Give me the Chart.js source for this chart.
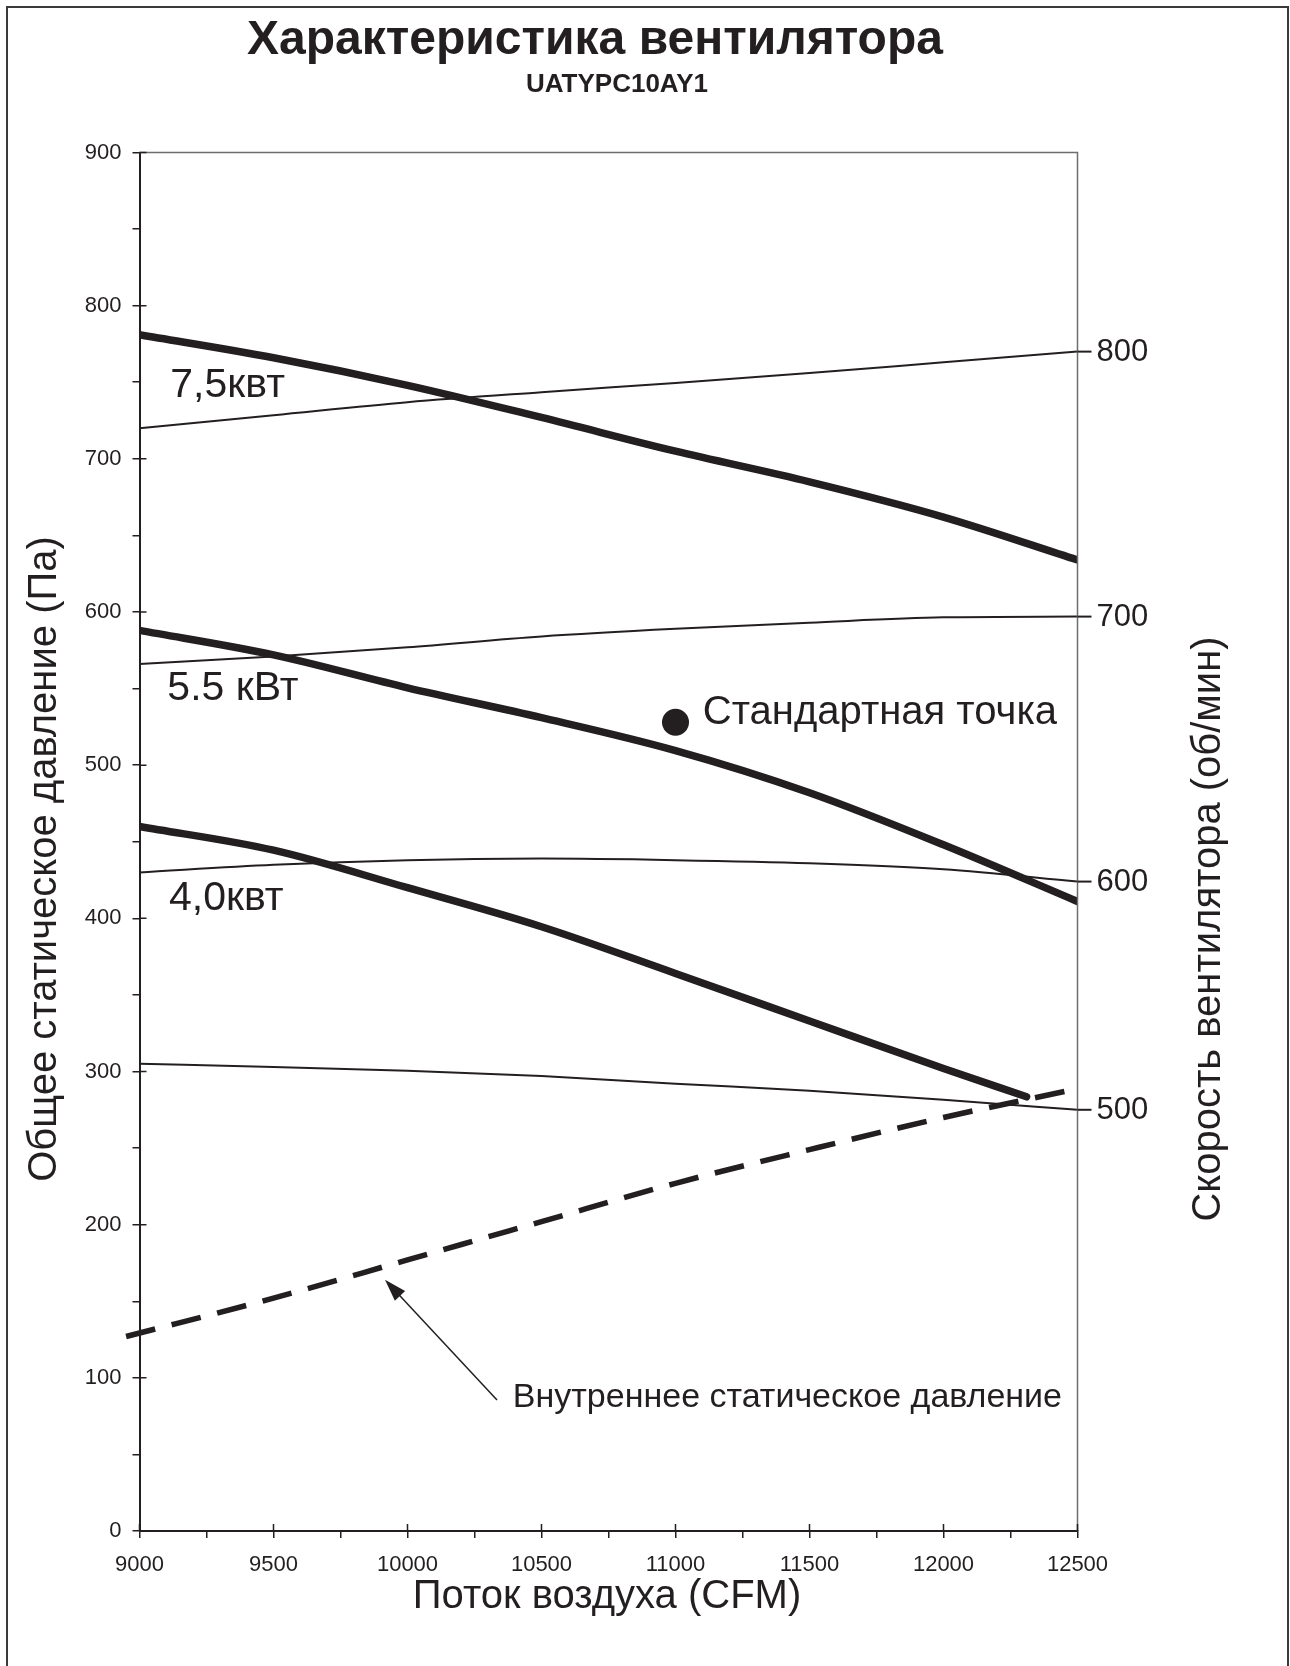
<!DOCTYPE html>
<html>
<head>
<meta charset="utf-8">
<script src="https://cdn.jsdelivr.net/npm/chart.js@4.4.1/dist/chart.umd.min.js"></script>
<style>
  html, body { margin: 0; padding: 0; background: #fff; }
  canvas { display: block; }
</style>
</head>
<body>
<canvas id="fanChart" width="1290" height="1666"></canvas>
<script>
// Air flow (CFM) sample points
const cfm = [9000, 9500, 10000, 10500, 11000, 11500, 12000, 12500];
const cfm40 = [9000, 9500, 10000, 10500, 11000, 11500, 12000, 12310];
const cfmInternal = [8950, 9500, 10000, 10500, 11000, 11500, 12000, 12480];

// Motor power curves (Pa)
const power75 = [781, 766, 748, 727, 705, 685, 662, 634];
const power55 = [588, 572, 550.5, 531, 509.5, 482, 448, 411];
const power40 = [460, 444.5, 420, 394.5, 364, 333, 302, 283.5];

// Fan speed curves (Pa)
const rpm800 = [720, 728.5, 737, 743.5, 749.5, 756, 763, 770];
const rpm700 = [566, 571, 577, 584, 589, 593, 596.5, 597];
const rpm600 = [430, 435, 438, 439, 438, 436, 432, 424];
const rpm500 = [305, 303, 300.5, 297, 292, 287.5, 281.5, 275];
const rpmLabels = ['800', '700', '600', '500'];

// Internal static pressure (Pa)
const internalPressure = [127, 152, 177, 202, 227, 249, 270, 288];

// Standard point
const standardPoint = { x: 11000, y: 528 };

// Axis ticks
const xMin = 9000, xMax = 12500, xStep = 500;
const yMin = 0, yMax = 900, yStep = 100;

const INK = '#231f20';
const FONT = "'Liberation Sans', Arial, Helvetica, sans-serif";

function toPoints(xs, ys) {
    return xs.map((x, i) => ({ x: x, y: ys[i] }));
}

function thick(data) {
    return {
        data: data,
        borderColor: INK,
        borderWidth: 7.5,
        borderCapStyle: 'round',
        borderJoinStyle: 'round',
        tension: 0.4,
        cubicInterpolationMode: 'monotone',
        pointRadius: 0,
        order: 1
    };
}

function thin(data) {
    return {
        data: data,
        borderColor: INK,
        borderWidth: 2,
        tension: 0.4,
        cubicInterpolationMode: 'monotone',
        pointRadius: 0,
        order: 3
    };
}

const rpmSeries = [rpm800, rpm700, rpm600, rpm500];

// Labels, axis titles and frame
const decorPlugin = {
    id: 'decor',
    afterDraw(chart) {
        const ctx = chart.ctx;
        const x = chart.scales.x;
        const y = chart.scales.y;
        const area = chart.chartArea;
        ctx.save();

        // outer frame
        ctx.strokeStyle = '#3a3a3a';
        ctx.lineWidth = 2;
        ctx.beginPath();
        ctx.moveTo(7, 1670);
        ctx.lineTo(7, 7);
        ctx.lineTo(1288, 7);
        ctx.lineTo(1288, 1670);
        ctx.stroke();

        // top and right plot edges
        ctx.strokeStyle = '#6d6d6d';
        ctx.lineWidth = 1.5;
        ctx.beginPath();
        ctx.moveTo(area.left, area.top);
        ctx.lineTo(area.right, area.top);
        ctx.lineTo(area.right, area.bottom);
        ctx.stroke();

        // inner part of major ticks
        ctx.strokeStyle = INK;
        ctx.lineWidth = 1.5;
        ctx.beginPath();
        for (let v = xMin; v <= xMax; v += xStep) {
            const px = x.getPixelForValue(v);
            ctx.moveTo(px, area.bottom);
            ctx.lineTo(px, area.bottom - 7);
        }
        for (let v = yMin; v <= yMax; v += yStep) {
            const py = y.getPixelForValue(v);
            ctx.moveTo(area.left, py);
            ctx.lineTo(area.left + 7, py);
        }
        ctx.stroke();

        // fan speed labels at curve ends
        ctx.fillStyle = INK;
        ctx.font = '31px ' + FONT;
        ctx.textAlign = 'left';
        ctx.textBaseline = 'middle';
        ctx.lineWidth = 2;
        rpmSeries.forEach((s, i) => {
            const py = y.getPixelForValue(s[s.length - 1]);
            ctx.beginPath();
            ctx.moveTo(area.right, py);
            ctx.lineTo(area.right + 14, py);
            ctx.stroke();
            ctx.fillText(rpmLabels[i], area.right + 19, py + 1);
        });

        // power labels
        ctx.font = '41px ' + FONT;
        ctx.fillText('7,5квт', x.getPixelForValue(9115), y.getPixelForValue(748));
        ctx.fillText('5.5 кВт', x.getPixelForValue(9104), y.getPixelForValue(550));
        ctx.fillText('4,0квт', x.getPixelForValue(9110), y.getPixelForValue(413));

        ctx.font = '40px ' + FONT;
        ctx.fillText('Стандартная точка', x.getPixelForValue(11102), y.getPixelForValue(534));

        ctx.font = '34px ' + FONT;
        ctx.fillText('Внутреннее статическое давление', x.getPixelForValue(10393), y.getPixelForValue(87));

        // arrow to the internal pressure line
        const tx = x.getPixelForValue(10334), ty = y.getPixelForValue(85.6);
        const hx = x.getPixelForValue(9916), hy = y.getPixelForValue(164);
        const ang = Math.atan2(hy - ty, hx - tx);
        ctx.lineWidth = 1.5;
        ctx.beginPath();
        ctx.moveTo(tx, ty);
        ctx.lineTo(hx - 16 * Math.cos(ang), hy - 16 * Math.sin(ang));
        ctx.stroke();
        ctx.beginPath();
        ctx.moveTo(hx, hy);
        ctx.lineTo(hx - 22 * Math.cos(ang) + 7 * Math.sin(ang), hy - 22 * Math.sin(ang) - 7 * Math.cos(ang));
        ctx.lineTo(hx - 22 * Math.cos(ang) - 7 * Math.sin(ang), hy - 22 * Math.sin(ang) + 7 * Math.cos(ang));
        ctx.closePath();
        ctx.fill();

        // titles
        ctx.textAlign = 'center';
        ctx.textBaseline = 'alphabetic';
        ctx.font = 'bold 48px ' + FONT;
        ctx.fillText('Характеристика вентилятора', 595, 54);
        ctx.font = 'bold 26px ' + FONT;
        ctx.fillText('UATYPC10AY1', 617, 92);

        ctx.font = '40px ' + FONT;
        ctx.textBaseline = 'middle';
        ctx.fillText('Поток воздуха (CFM)', 607, 1597);

        ctx.save();
        ctx.translate(45, 859);
        ctx.rotate(-Math.PI / 2);
        ctx.fillText('Общее статическое давление (Па)', 0, 0);
        ctx.restore();

        ctx.save();
        ctx.translate(1209, 929);
        ctx.rotate(-Math.PI / 2);
        ctx.fillText('Скорость вентилятора (об/мин)', 0, 0);
        ctx.restore();

        ctx.restore();
    }
};

new Chart(document.getElementById('fanChart'), {
    type: 'line',
    data: {
        datasets: [
            thick(toPoints(cfm, power75)),
            thick(toPoints(cfm, power55)),
            thick(toPoints(cfm40, power40)),
            thin(toPoints(cfm, rpm800)),
            thin(toPoints(cfm, rpm700)),
            thin(toPoints(cfm, rpm600)),
            thin(toPoints(cfm, rpm500)),
            {
                data: toPoints(cfmInternal, internalPressure),
                borderColor: INK,
                borderWidth: 5.5,
                borderDash: [30, 17],
                tension: 0.4,
                cubicInterpolationMode: 'monotone',
                pointRadius: 0,
                clip: false,
                order: 2
            },
            {
                data: [standardPoint],
                showLine: false,
                pointRadius: 13.5,
                pointBackgroundColor: INK,
                pointBorderWidth: 0,
                order: 0
            }
        ]
    },
    options: {
        responsive: false,
        animation: false,
        events: [],
        layout: { padding: { top: 152.5, right: 212.5, left: 0, bottom: 0 } },
        plugins: {
            legend: { display: false },
            tooltip: { enabled: false }
        },
        scales: {
            x: {
                type: 'linear',
                min: xMin,
                max: xMax,
                afterFit: (scale) => { scale.height = 135; },
                border: { color: INK, width: 2 },
                grid: { drawOnChartArea: false, drawTicks: true, tickLength: 7, color: INK, lineWidth: 1.5 },
                ticks: {
                    stepSize: 250,
                    padding: 14,
                    color: INK,
                    font: { family: FONT, size: 22 },
                    maxRotation: 0,
                    autoSkip: false,
                    callback: (v) => (v % xStep === 0 ? String(v) : '')
                }
            },
            y: {
                min: yMin,
                max: yMax,
                afterFit: (scale) => { scale.width = 139.5; },
                border: { color: INK, width: 2 },
                grid: { drawOnChartArea: false, drawTicks: true, tickLength: 7, color: INK, lineWidth: 1.5 },
                ticks: {
                    stepSize: 50,
                    padding: 11,
                    color: INK,
                    font: { family: FONT, size: 22 },
                    autoSkip: false,
                    callback: (v) => (v % yStep === 0 ? String(v) : '')
                }
            }
        }
    },
    plugins: [decorPlugin]
});
</script>
</body>
</html>
